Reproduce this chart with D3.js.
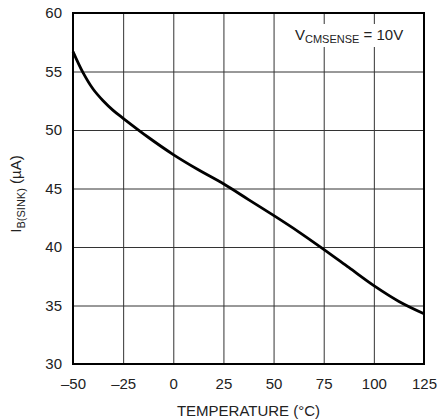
<!DOCTYPE html>
<html>
<head>
<meta charset="utf-8">
<script src="https://cdn.jsdelivr.net/npm/d3@7"></script>
<style>
  body { margin: 0; background: #fff; }
  text { font-family: "Liberation Sans", Arial, sans-serif; fill: #222; }
</style>
</head>
<body>
<div id="chart"></div>
<script>
// curve
var temps  = [-50, -45, -40, -35, -30, -25, -12.5, 0, 12.5, 25, 37.5, 50, 62.5, 75, 87.5, 100, 112.5, 125];
var ibSink = [56.7, 54.9, 53.5, 52.5, 51.68, 51.0, 49.38, 47.9, 46.6, 45.4, 44.05, 42.7, 41.3, 39.8, 38.25, 36.7, 35.35, 34.3];

var xTicks = [-50, -25, 0, 25, 50, 75, 100, 125];
var yTicks = [30, 35, 40, 45, 50, 55, 60];

var margin = {left: 73, top: 13, right: 16, bottom: 55};
var width = 440, height = 419;
var w = width - margin.left - margin.right;
var h = height - margin.top - margin.bottom;

var svg = d3.select('#chart').append('svg')
            .attr('width', width)
            .attr('height', height);

var g = svg.append('g')
           .attr('transform', 'translate(' + margin.left + ',' + margin.top + ')');

var x = d3.scaleLinear().domain([-50, 125]).range([0, w]);
var y = d3.scaleLinear().domain([30, 60]).range([h, 0]);

function fmt(d) { return d < 0 ? '\u2013' + Math.abs(d) : String(d); }

// ************ axes + grid ************
var xAxis = g.append('g')
             .attr('transform', 'translate(0,' + h + ')')
             .call(d3.axisBottom(x).tickValues(xTicks).tickFormat(fmt)
                     .tickSizeInner(-h).tickSizeOuter(0).tickPadding(14));

var yAxis = g.append('g')
             .call(d3.axisLeft(y).tickValues(yTicks).tickFormat(fmt)
                     .tickSizeInner(-w).tickSizeOuter(0).tickPadding(11));

[xAxis, yAxis].forEach(function(a) {
  a.select('.domain').remove();
  a.selectAll('line').style('stroke', '#333').style('stroke-width', 1);
  a.selectAll('text').style('font-size', '15px').style('fill', '#222')
   .style('font-family', '"Liberation Sans", Arial, sans-serif');
});

// ************ annotation ************
g.append('rect')
 .attr('x', 217).attr('y', 11)
 .attr('width', w - 217).attr('height', 23)
 .style('fill', '#fff');

var note = g.append('text')
            .attr('x', 222)
            .attr('y', 27)
            .style('font-size', '15px');
note.append('tspan').text('V');
note.append('tspan').attr('dy', 3).style('font-size', '11px').text('CMSENSE');
note.append('tspan').attr('dy', -3).text(' = 10V');

// ************ frame ************
g.append('rect')
 .attr('width', w)
 .attr('height', h)
 .style('fill', 'none')
 .style('stroke', '#000')
 .style('stroke-width', 2);

// ************ curve ************
var line = d3.line()
             .x(function(d, i) { return x(temps[i]); })
             .y(function(d) { return y(d); })
             .curve(d3.curveCatmullRom);

g.append('path')
 .datum(ibSink)
 .attr('d', line)
 .style('fill', 'none')
 .style('stroke', '#000')
 .style('stroke-width', 2.8);

// ************ titles ************
svg.append('text')
   .attr('x', margin.left + w / 2)
   .attr('y', 416)
   .attr('text-anchor', 'middle')
   .style('font-size', '15px')
   .text('TEMPERATURE (\u00B0C)');

var yl = svg.append('text')
            .attr('transform', 'translate(21,' + 194 + ') rotate(-90)')
            .attr('text-anchor', 'middle')
            .style('font-size', '15px');
yl.append('tspan').text('I');
yl.append('tspan').attr('dy', 4).style('font-size', '11px').text('B(SINK)');
yl.append('tspan').attr('dy', -4).text(' (\u00B5A)');
</script>
</body>
</html>
